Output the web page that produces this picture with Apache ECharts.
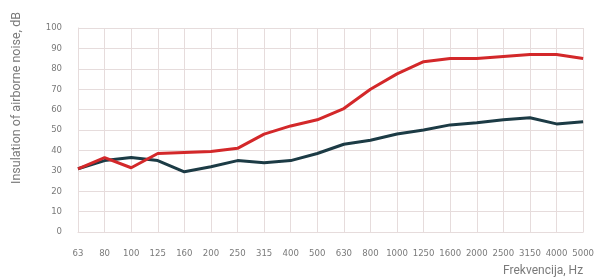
<!DOCTYPE html>
<html>
<head>
<meta charset="utf-8">
<script src="https://cdn.jsdelivr.net/npm/echarts@6/dist/echarts.min.js"></script>
<style>
html, body { margin: 0; padding: 0; background: #fff; }
#container { width: 597px; height: 279px; }
</style>
</head>
<body>
<div id="container"></div>
<script>
var frequencies = ['63', '80', '100', '125', '160', '200', '250', '315', '400', '500', '630', '800', '1000', '1250', '1600', '2000', '2500', '3150', '4000', '5000'];
var redValues = [31, 36.5, 31.5, 38.5, 39, 39.5, 41, 48, 52, 55, 60.5, 70, 77.5, 83.5, 85, 85, 86, 87, 87, 85];
var darkValues = [31, 35, 36.5, 35, 29.5, 32, 35, 34, 35, 38.5, 43, 45, 48, 50, 52.5, 53.5, 55, 56, 53, 54];

var dom = document.getElementById('container');
var myChart = echarts.init(dom, null, { renderer: 'canvas' });

var gridColor = '#e6dcdc';
var labelStyle = { color: '#7a7a7a', fontSize: 9.5, fontFamily: 'Liberation Sans Narrow, DejaVu Sans Condensed, sans-serif' };

var option = {
    animation: false,
    backgroundColor: '#fff',
    grid: { left: 78, right: 12, top: 28, bottom: 47 },
    xAxis: {
        type: 'category',
        data: frequencies,
        boundaryGap: false,
        name: 'Frekvencija, Hz',
        nameLocation: 'end',
        nameGap: 0,
        nameTextStyle: { color: '#7a7a7a', fontSize: 12, fontFamily: 'Roboto, sans-serif', align: 'right', verticalAlign: 'top', padding: [33, 0, 0, 0] },
        axisLine: { lineStyle: { color: gridColor } },
        axisTick: { show: false },
        axisLabel: Object.assign({ margin: 17, interval: 0 }, labelStyle),
        splitLine: { show: true, lineStyle: { color: gridColor } }
    },
    yAxis: {
        type: 'value',
        min: 0,
        max: 100,
        interval: 10,
        name: 'Insulation of airborne noise, dB',
        nameLocation: 'middle',
        nameRotate: 90,
        nameGap: 55,
        nameTextStyle: { color: '#7a7a7a', fontSize: 12.5, fontFamily: 'Roboto, sans-serif', padding: [0, 0, 0, 64] },
        axisLine: { show: true, lineStyle: { color: gridColor } },
        axisTick: { show: false },
        axisLabel: Object.assign({ margin: 16 }, labelStyle),
        splitLine: { lineStyle: { color: gridColor } }
    },
    series: [
        {
            type: 'line',
            data: darkValues,
            symbol: 'none',
            lineStyle: { color: '#1c3b45', width: 3 }
        },
        {
            type: 'line',
            data: redValues,
            symbol: 'none',
            lineStyle: { color: '#d3282a', width: 3 }
        }
    ]
};

myChart.setOption(option);
window.addEventListener('resize', myChart.resize);
</script>
</body>
</html>
